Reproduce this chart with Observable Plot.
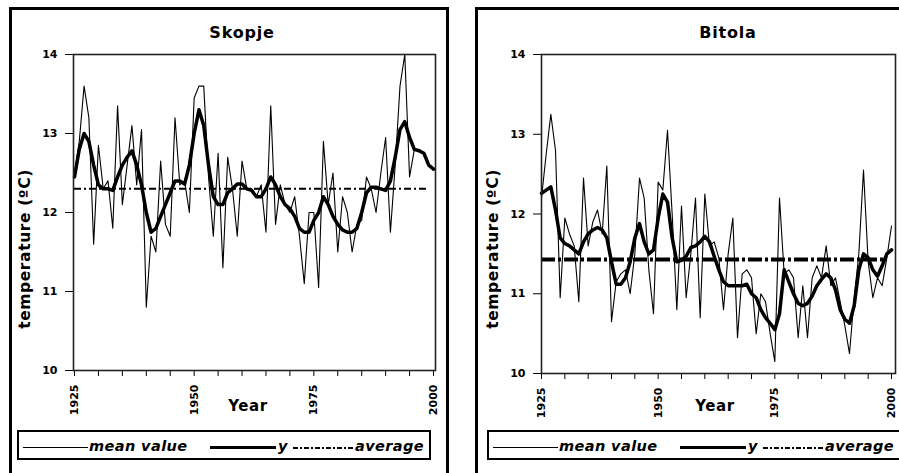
<!DOCTYPE html>
<html>
<head>
<meta charset="utf-8">
<script src="https://cdn.jsdelivr.net/npm/d3@7"></script>
<script src="https://cdn.jsdelivr.net/npm/@observablehq/plot@0.6"></script>
<style>
  html, body { margin: 0; padding: 0; background: #fff; width: 899px; height: 473px; overflow: hidden; }
  body { position: relative; font-family: "DejaVu Sans", sans-serif; font-weight: bold; color: #000; }
  .panel { position: absolute; border: 3px solid #000; box-sizing: border-box; }
  .title { position: absolute; font-size: 16px; letter-spacing: 0.8px; transform: translate(-50%, -50%); white-space: nowrap; }
  .ylab { position: absolute; font-size: 15.5px; white-space: nowrap; transform: translate(-50%, -50%) rotate(-90deg); letter-spacing: 0.6px; }
  .xlab { position: absolute; font-size: 15px; letter-spacing: 0.6px; transform: translate(-50%, -50%); white-space: nowrap; }
  .legend { position: absolute; border: 2px solid #000; box-sizing: border-box; height: 30px; }
  .lg { position: absolute; font-size: 14.5px; letter-spacing: 0.4px; font-style: italic; white-space: nowrap; line-height: 1; }
  .ln { position: absolute; height: 0; }
</style>
</head>
<body>
<script>
// ---------- data ----------
const years = d3.range(1925, 2001);
const skopjeMean = [12.5,12.9,13.6,13.2,11.6,12.85,12.3,12.4,11.8,13.35,12.1,12.6,13.1,12.35,13.05,10.8,11.7,11.5,12.65,11.85,11.7,13.2,12.35,12.4,12.0,13.45,13.6,13.6,12.45,11.7,12.75,11.3,12.7,12.3,11.7,12.65,12.3,12.3,12.2,12.35,11.75,13.35,11.85,12.35,12.1,12.0,12.2,11.7,11.1,12.0,12.0,11.05,12.9,12.1,12.5,11.5,12.2,12.0,11.5,11.85,11.9,12.45,12.3,12.0,12.5,12.95,11.75,12.6,13.6,14.0,12.45,12.8,12.8,12.75,12.6,12.55];
const skopjeY = [12.45,12.8,13.0,12.9,12.6,12.35,12.3,12.3,12.28,12.45,12.6,12.7,12.78,12.6,12.35,12.0,11.75,11.8,11.95,12.1,12.25,12.4,12.4,12.36,12.6,13.0,13.3,13.1,12.6,12.2,12.1,12.1,12.25,12.3,12.36,12.36,12.3,12.28,12.2,12.2,12.3,12.45,12.35,12.2,12.1,12.05,11.95,11.8,11.75,11.75,11.9,12.0,12.2,12.1,11.95,11.85,11.78,11.75,11.75,11.8,12.0,12.25,12.32,12.32,12.3,12.28,12.4,12.7,13.05,13.15,12.95,12.8,12.78,12.75,12.6,12.55];
const skopjeAverage = 12.3;
const bitolaMean = [12.2,12.75,13.25,12.8,10.95,11.95,11.75,11.6,10.9,12.45,11.6,11.9,12.05,11.75,12.6,10.65,11.15,11.25,11.3,11.0,11.5,12.45,12.2,11.3,10.75,12.4,12.3,13.05,12.0,10.8,12.1,10.95,11.5,12.2,10.7,12.25,11.6,11.65,11.45,10.8,11.5,11.95,10.45,11.25,11.3,11.2,10.5,11.0,10.9,10.5,10.15,12.2,11.25,11.3,11.2,10.45,11.1,10.45,11.2,11.35,11.2,11.6,11.1,11.2,10.9,10.6,10.25,10.95,11.5,12.55,11.4,10.95,11.2,11.1,11.45,11.85];
const bitolaY = [12.26,12.3,12.34,12.05,11.7,11.63,11.6,11.55,11.5,11.65,11.75,11.8,11.83,11.8,11.7,11.4,11.12,11.12,11.2,11.4,11.7,11.88,11.65,11.5,11.55,11.95,12.25,12.15,11.7,11.4,11.42,11.47,11.58,11.6,11.65,11.72,11.65,11.47,11.3,11.15,11.1,11.1,11.1,11.1,11.12,11.0,10.95,10.8,10.7,10.63,10.55,10.75,11.3,11.15,11.0,10.88,10.85,10.88,10.97,11.1,11.18,11.25,11.2,11.05,10.8,10.68,10.63,10.85,11.3,11.5,11.45,11.3,11.22,11.35,11.5,11.55];
const bitolaAverage = 11.43;
const yTicks = [10, 11, 12, 13, 14];
const xTicks = d3.range(1925, 2001, 5);
const xLabelYears = [1925, 1950, 1975, 2000];
const averageSpan = [1925, 1999];

// ---------- helpers ----------
function el(tag, cls, style, text) {
  const e = document.createElement(tag);
  if (cls) e.className = cls;
  Object.assign(e.style, style);
  if (text != null) e.textContent = text;
  document.body.appendChild(e);
  return e;
}

function chart(cfg) {
  const mean = years.map((x, i) => ({x, v: cfg.mean[i]}));
  const smooth = years.map((x, i) => ({x, v: cfg.smooth[i]}));
  const avg = [{x1: averageSpan[0], x2: averageSpan[1], y: cfg.average}];
  const p = Plot.plot({
    width: cfg.width, height: cfg.height,
    marginLeft: cfg.ml, marginRight: cfg.mr, marginTop: cfg.mt, marginBottom: cfg.mb,
    insetLeft: cfg.il, insetRight: cfg.ir,
    style: {fontFamily: "DejaVu Sans, sans-serif", fontSize: "11px", fontWeight: "bold", background: "transparent", color: "#000"},
    x: {domain: [1925, 2000], ticks: xTicks, tickFormat: d => xLabelYears.includes(d) ? String(d) : "", tickRotate: -90, tickSize: 6, tickPadding: 8, label: null},
    y: {domain: [10, 14], ticks: yTicks, tickFormat: d => String(d), tickSize: 8, tickPadding: 8, label: null},
    marks: [
      Plot.ruleY(avg, {x1: "x1", x2: "x2", y: "y", stroke: "#000", strokeWidth: cfg.avgWidth, strokeDasharray: cfg.avgDash}),
      Plot.lineY(mean, {x: "x", y: "v", stroke: "#000", strokeWidth: 1.1}),
      Plot.lineY(smooth, {x: "x", y: "v", stroke: "#000", strokeWidth: 3.5, curve: "linear"}),
      Plot.frame({stroke: "#222", strokeWidth: 1.6})
    ]
  });
  p.style.position = "absolute";
  p.style.left = cfg.left + "px";
  p.style.top = cfg.top + "px";
  document.body.appendChild(p);
}

function panel(cfg) {
  el("div", "panel", {left: cfg.boxLeft + "px", top: "7px", width: cfg.boxWidth + "px", height: "480px"});
  el("div", "title", {left: cfg.titleX + "px", top: "32px"}, cfg.title);
  el("div", "ylab", {left: cfg.ylabX + "px", top: "249px"}, "temperature (ºC)");
  el("div", "xlab", {left: cfg.xlabX + "px", top: "406px"}, "Year");
  chart(cfg);
  // legend
  const L = cfg.legLeft;
  el("div", "legend", {left: L + "px", top: "430px", width: cfg.legWidth + "px"});
  el("div", "ln", {left: (L + 6) + "px", top: "447px", width: "65px", borderTop: "1.2px solid #000"});
  el("div", "lg", {left: (L + 72) + "px", top: "439px"}, "mean value");
  el("div", "ln", {left: (L + 193) + "px", top: "446px", width: "66px", borderTop: "3.5px solid #000"});
  el("div", "lg", {left: (L + 261) + "px", top: "439px"}, "y");
  const s = el("div", "ln", {left: (L + 276) + "px", top: "447px", width: "62px", height: "2px"});
  s.style.backgroundImage = "repeating-linear-gradient(to right, #000 0 5px, transparent 5px 7px, #000 7px 9px, transparent 9px 11px)";
  el("div", "lg", {left: (L + 338) + "px", top: "439px"}, "average");
}

panel({
  title: "Skopje", mean: skopjeMean, smooth: skopjeY, average: skopjeAverage,
  boxLeft: 9, boxWidth: 440, titleX: 242, ylabX: 25, xlabX: 248,
  left: 12, top: 40, width: 432, height: 390, ml: 61, mr: 9, mt: 14, mb: 60, il: 1, ir: 2,
  avgWidth: 2, avgDash: "7,3,2,3",
  legLeft: 17, legWidth: 414
});
panel({
  title: "Bitola", mean: bitolaMean, smooth: bitolaY, average: bitolaAverage,
  boxLeft: 475, boxWidth: 440, titleX: 728, ylabX: 493, xlabX: 715,
  left: 478, top: 40, width: 421, height: 390, ml: 63, mr: 4, mt: 14, mb: 57, il: 0, ir: 4,
  avgWidth: 4, avgDash: "14,3,3,3",
  legLeft: 487, legWidth: 430
});
</script>
</body>
</html>
